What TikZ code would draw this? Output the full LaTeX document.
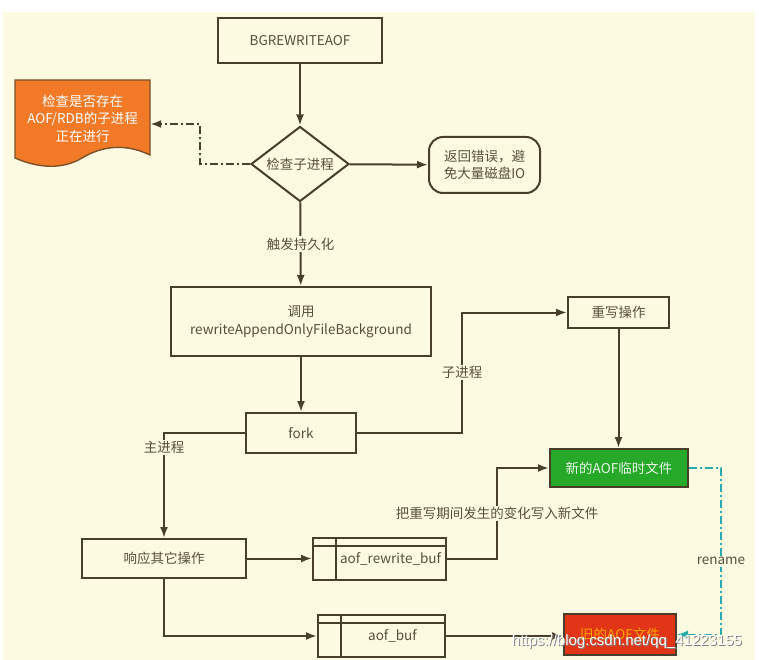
\documentclass[tikz,border=0pt]{standalone}
\usepackage{fontspec}
\setmainfont{Noto Sans CJK SC}
\newfontfamily\wmfont{Liberation Sans}
\usetikzlibrary{arrows.meta,shapes.geometric}

\definecolor{bgyellow}{RGB}{252,251,225}
\definecolor{lineclr}{RGB}{72,62,44}
\definecolor{txtclr}{RGB}{88,78,62}
\definecolor{docorange}{RGB}{242,122,38}
\definecolor{newgreen}{RGB}{38,168,40}
\definecolor{oldred}{RGB}{226,52,22}
\definecolor{renameteal}{RGB}{40,170,170}

\begin{document}
\begin{tikzpicture}[x=1pt, y=-1pt, font=\fontsize{13.5}{17.5}\selectfont]
  \tikzstyle{box}=[rectangle, draw=lineclr, line width=2pt, inner sep=0pt, text=txtclr, align=center]
  \tikzstyle{check}=[box, diamond, aspect=1.3]
  \tikzstyle{buffer}=[box, path picture={
      \draw[lineclr, line width=1.5pt] ([yshift=-8pt]path picture bounding box.north west) -- ([yshift=-8pt]path picture bounding box.north east);
      \draw[lineclr, line width=1.5pt] ([xshift=23pt]path picture bounding box.north west) -- ([xshift=23pt]path picture bounding box.south west);}]
  \tikzstyle{arrow}=[draw=lineclr, line width=2pt, -{Latex[length=11pt, width=8pt]}]
  \tikzstyle{dashdot}=[arrow, dash pattern=on 8pt off 3pt on 2pt off 3pt]
  \tikzstyle{renamearrow}=[arrow, draw=renameteal, line width=1.6pt, dash pattern=on 8pt off 3pt on 2pt off 3pt]
  \tikzstyle{lbl}=[fill=bgyellow, text=txtclr, inner sep=1.5pt]

  \useasboundingbox (0,0) rectangle (759,660);
  \fill[white] (0,0) rectangle (759,660);
  \fill[bgyellow] (3,12) rectangle (755,660);

  % document shape
  \filldraw[fill=docorange, draw=lineclr!70!docorange, line width=1.4pt]
    (15,80) -- (150,80) -- (150,155) .. controls (125,143) and (102,146) .. (82,158)
    .. controls (62,170) and (38,168) .. (15,158) -- cycle;
  \node[text=white, align=center, inner sep=0pt, minimum width=135, minimum height=77] (doc) at (82.5,118.5) {检查是否存在\\AOF/RDB的子进程\\正在进行};

  \node[box, minimum width=164, minimum height=45] (bg)   at (300,40.5)  {BGREWRITEAOF};
  \node[check, minimum width=98, minimum height=75] (chk) at (300,164)   {检查子进程};
  \node[box, rounded corners=14pt, minimum width=111, minimum height=56] (err) at (484.5,165) {返回错误，避\\免大量磁盘IO};
  \node[box, minimum width=260, minimum height=69] (call) at (301,321.5) {调用\\rewriteAppendOnlyFileBackground};
  \node[box, minimum width=110, minimum height=40] (fork) at (301,433)   {fork};
  \node[box, minimum width=101, minimum height=31] (rw)   at (618.5,312.5) {重写操作};
  \node[box, fill=newgreen, text=white!90!newgreen, minimum width=138, minimum height=38] (newf) at (619,468) {新的AOF临时文件};
  \node[box, minimum width=164, minimum height=39] (resp) at (164,558.5) {响应其它操作};
  \node[buffer, minimum width=133, minimum height=42] (rbuf) at (379.5,559) {\hspace*{22pt}aof\_rewrite\_buf};
  \node[buffer, minimum width=127, minimum height=42] (abuf) at (381.5,636) {\hspace*{22pt}aof\_buf};
  \node[box, fill=oldred, text=orange!70!yellow, minimum width=112, minimum height=41] (oldf) at (620,634.5) {旧的AOF文件};

  \coordinate (bendl)  at (200,124);
  \coordinate (rwbend) at (462,0);
  \coordinate (wbend)  at (497,0);
  \coordinate (rnbend) at (721,0);

  \draw[arrow] (bg) -- (chk);
  \draw[dashdot] (chk.west) -| (bendl) -- (bendl -| doc.east);
  \draw[arrow] (chk) -- (err);
  \draw[arrow] (chk) -- node[lbl] {触发持久化} (call);
  \draw[arrow] (call) -- (fork);
  \draw[arrow] (fork.west) -| node[lbl, pos=0.57] {主进程} (resp.north);
  \draw[arrow] (fork.east) -| node[lbl, pos=0.75] {子进程} (rwbend |- rw.west) -- (rw.west);
  \draw[arrow] (rw.south) -- (rw.south |- newf.north);
  \draw[arrow] (resp.east) -- (resp.east -| rbuf.west);
  \draw[arrow] (resp.south) |- (abuf.west);
  \draw[arrow] (rbuf.east) -| node[lbl, pos=0.75] {把重写期间发生的变化写入新文件} (wbend |- newf.west) -- (newf.west);
  \draw[arrow] (abuf.east) -- (abuf.east -| oldf.west);
  \draw[renamearrow] (newf.east) -| node[lbl, pos=0.78] {rename} (rnbend |- oldf.east) -- (oldf.east);

  % watermark
  \node[text=gray, font=\wmfont\fontsize{15}{18}\selectfont] (wmshadow) at (628,643) {https://blog.csdn.net/qq\_41223155};
  \node[text=white, font=\wmfont\fontsize{15}{18}\selectfont] (wm) at (627,642) {https://blog.csdn.net/qq\_41223155};
\end{tikzpicture}
\end{document}
